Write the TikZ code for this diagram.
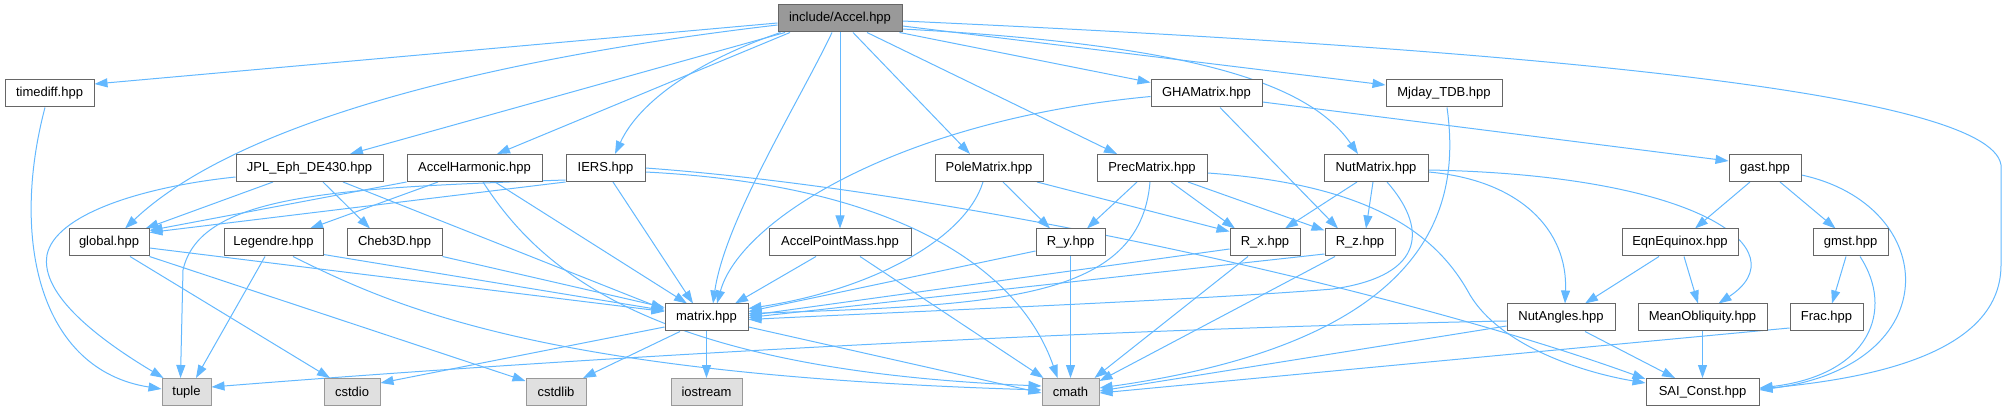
\documentclass[tikz,border=0pt]{standalone}
\usepackage{fontspec}
\setmainfont{Liberation Sans}
\usetikzlibrary{arrows.meta}
\definecolor{edgec}{HTML}{63B8FF}
\definecolor{bord}{HTML}{666666}
\definecolor{sysb}{HTML}{999999}
\definecolor{sysf}{HTML}{E0E0E0}
\pgfdeclarelayer{bg}
\pgfsetlayers{bg,main}
\tikzset{
  file/.style={draw=bord, fill=white, line width=1pt, minimum height=27pt, inner sep=0pt,
    font=\fontsize{13}{15}\selectfont, text=black},
  sys/.style={file, draw=sysb, fill=sysf},
  root/.style={file, fill=sysb},
  dep/.style={draw=edgec, line width=1pt, -{Triangle[length=13pt,width=9pt]}},
}
\begin{document}
\begin{tikzpicture}[x=1pt,y=-1pt]
\useasboundingbox (0,0) rectangle (2007,411);
% row 0
\node[root, minimum width=124pt] (accel) at (840,18.5) {include/Accel.hpp};
% row 1
\node[file, minimum width=89pt] (timediff) at (49.5,93.5) {timediff.hpp};
\node[file, minimum width=111pt] (gha) at (1206.5,93.5) {GHAMatrix.hpp};
\node[file, minimum width=116pt] (mjday) at (1444,93.5) {Mjday\_TDB.hpp};
% row 2
\node[file, minimum width=147pt] (jpl) at (309.5,168) {JPL\_Eph\_DE430.hpp};
\node[file, minimum width=135pt] (harm) at (474.5,168) {AccelHarmonic.hpp};
\node[file, minimum width=79pt] (iers) at (605.5,168) {IERS.hpp};
\node[file, minimum width=108pt] (pole) at (989,168) {PoleMatrix.hpp};
\node[file, minimum width=110pt] (prec) at (1152,168) {PrecMatrix.hpp};
\node[file, minimum width=104pt] (nut) at (1376,168) {NutMatrix.hpp};
\node[file, minimum width=72pt] (gast) at (1765,168) {gast.hpp};
% row 3
\node[file, minimum width=80pt] (global) at (109,242.5) {global.hpp};
\node[file, minimum width=99pt] (legendre) at (273.5,242.5) {Legendre.hpp};
\node[file, minimum width=95pt] (cheb) at (394.5,242.5) {Cheb3D.hpp};
\node[file, minimum width=142pt] (apm) at (840,242.5) {AccelPointMass.hpp};
\node[file, minimum width=69pt] (ry) at (1070.5,242.5) {R\_y.hpp};
\node[file, minimum width=70pt] (rx) at (1265,242.5) {R\_x.hpp};
\node[file, minimum width=70pt] (rz) at (1360,242.5) {R\_z.hpp};
\node[file, minimum width=116pt] (eqn) at (1680,242.5) {EqnEquinox.hpp};
\node[file, minimum width=75pt] (gmst) at (1850.5,242.5) {gmst.hpp};
% row 4
\node[file, minimum width=83pt] (matrix) at (706.5,317.5) {matrix.hpp};
\node[file, minimum width=108pt] (nutang) at (1561,317.5) {NutAngles.hpp};
\node[file, minimum width=129pt] (meanobl) at (1702.5,317.5) {MeanObliquity.hpp};
\node[file, minimum width=73pt] (frac) at (1826.5,317.5) {Frac.hpp};
% row 5
\node[sys, minimum width=49pt] (tuple) at (186.5,392) {tuple};
\node[sys, minimum width=56pt] (cstdio) at (352,392) {cstdio};
\node[sys, minimum width=60pt] (cstdlib) at (556,392) {cstdlib};
\node[sys, minimum width=71pt] (iostream) at (706.5,392) {iostream};
\node[sys, minimum width=57pt] (cmath) at (1070.5,392) {cmath};
\node[file, minimum width=113pt] (sai) at (1702.5,392) {SAI\_Const.hpp};

\begin{pgfonlayer}{bg}
% Accel
\draw[dep] ([yshift=-4.5pt]accel.west) -- ([yshift=9.5pt]timediff.east);
\draw[dep] ([yshift=-6.5pt]accel.west) .. controls (520,55) and (245,115) .. ([xshift=16pt]global.north);
\draw[dep] ([xshift=-55pt]accel.south) -- ([xshift=40.5pt]jpl.north);
\draw[dep] ([xshift=-50pt]accel.south) -- ([xshift=22.5pt]harm.north);
\draw[dep] ([xshift=3pt]accel.south west) .. controls (700,60) and (640,100) .. ([xshift=9.5pt]iers.north);
\draw[dep] ([xshift=-8pt]accel.south) .. controls (800,100) and (725,220) .. ([xshift=6.5pt]matrix.north);
\draw[dep] (accel.south) -- (apm.north);
\draw[dep] ([xshift=13pt]accel.south) -- ([xshift=-19pt]pole.north);
\draw[dep] ([xshift=27pt]accel.south) -- ([xshift=-35pt]prec.north);
\draw[dep] ([xshift=-3pt]accel.south east) -- ([yshift=-3pt]gha.north west);
\draw[dep] ([yshift=-7.5pt]accel.east) -- ([yshift=8.5pt]mjday.west);
\draw[dep] ([yshift=-10.5pt]accel.east) .. controls (1200,45) and (1310,85) .. ([xshift=-18pt]nut.north);
\draw[dep] ([yshift=-2.5pt]accel.east) .. controls (1500,48) and (1990,90) .. (2001,165) -- (2001,265) .. controls (2001,360) and (1850,380) .. ([yshift=3pt]sai.east);
% timediff
\draw[dep] ([xshift=-4.5pt]timediff.south) .. controls (10,240) and (40,370) .. ([yshift=3pt]tuple.west);
% JPL
\draw[dep] ([yshift=-9pt]jpl.west) .. controls (140,187) and (55,215) .. (47,255) .. controls (40,295) and (100,340) .. ([xshift=2pt]tuple.north west);
\draw[dep] ([xshift=-36.5pt]jpl.south) -- ([xshift=-4pt]global.north east);
\draw[dep] ([xshift=13.5pt]jpl.south) -- ([xshift=-24.5pt]cheb.north);
\draw[dep] ([xshift=33.5pt]jpl.south) -- ([yshift=8pt]matrix.west);
% AccelHarmonic
\draw[dep] (harm.south west) -- ([yshift=-2pt]global.north east);
\draw[dep] ([xshift=-36.5pt]harm.south) -- ([xshift=36.5pt]legendre.north);
\draw[dep] ([xshift=20.5pt]harm.south) -- ([xshift=-19.5pt]matrix.north);
\draw[dep] ([xshift=8.5pt]harm.south) .. controls (540,270) and (650,370) .. ([yshift=6pt]cmath.west);
% IERS
\draw[dep] (iers.south west) -- ([yshift=-4pt]global.north east);
\draw[dep] ([yshift=2pt]iers.south west) .. controls (330,188) and (200,195) .. (183,270) -- ([xshift=-6pt]tuple.north);
\draw[dep] ([xshift=7.5pt]iers.south) -- ([xshift=-13.5pt]matrix.north);
\draw[dep] ([yshift=-4pt]iers.east) .. controls (900,185) and (1020,270) .. ([xshift=-13pt]cmath.north);
\draw[dep] (iers.east) .. controls (950,190) and (1400,290) .. ([yshift=-1pt]sai.north west);
% global
\draw[dep] ([yshift=-5.5pt]global.east) -- ([yshift=6pt]matrix.west);
\draw[dep] ([xshift=21pt]global.south) -- ([xshift=-22pt]cstdio.north);
\draw[dep] (global.south east) -- ([yshift=-3pt]cstdlib.north west);
% Legendre
\draw[dep] ([xshift=-8.5pt]legendre.south) -- ([xshift=9.5pt]tuple.north);
\draw[dep] ([yshift=2pt]legendre.south east) -- ([yshift=7pt]matrix.west);
\draw[dep] ([xshift=19.5pt]legendre.south) .. controls (400,310) and (550,375) .. ([yshift=2pt]cmath.west);
% Cheb3D
\draw[dep] (cheb.south east) -- ([yshift=10pt]matrix.west);
% AccelPointMass
\draw[dep] ([xshift=-24pt]apm.south) -- ([xshift=28.5pt]matrix.north);
\draw[dep] ([xshift=20pt]apm.south) -- ([xshift=2pt]cmath.north west);
% PoleMatrix
\draw[dep] ([xshift=-6pt]pole.south) .. controls (965,240) and (870,290) .. ([yshift=9pt]matrix.east);
\draw[dep] ([xshift=14pt]pole.south) -- ([xshift=-20.5pt]ry.north);
\draw[dep] ([xshift=48pt]pole.south) -- ([yshift=-3pt]rx.north west);
% PrecMatrix
\draw[dep] ([xshift=-15pt]prec.south) -- ([xshift=16.5pt]ry.north);
\draw[dep] ([xshift=-2pt]prec.south) .. controls (1140,300) and (1000,305) .. ([yshift=4pt]matrix.east);
\draw[dep] ([xshift=19pt]prec.south) -- ([xshift=-30pt]rx.north);
\draw[dep] ([xshift=36pt]prec.south) -- ([yshift=-2pt]rz.north west);
\draw[dep] ([yshift=-5pt]prec.east) .. controls (1380,185) and (1440,240) .. (1470,295) .. controls (1500,345) and (1580,372) .. ([yshift=-5pt]sai.north west);
% GHAMatrix
\draw[dep] ([yshift=-3pt]gha.west) .. controls (900,120) and (740,220) .. ([xshift=10.5pt]matrix.north);
\draw[dep] ([xshift=13.5pt]gha.south) -- ([xshift=-22pt]rz.north);
\draw[dep] ([yshift=-8.5pt]gha.east) -- ([yshift=7pt]gast.west);
% Mjday
\draw[dep] ([xshift=3pt]mjday.south) .. controls (1460,200) and (1440,340) .. ([yshift=4pt]cmath.east);
% NutMatrix
\draw[dep] ([xshift=-19pt]nut.south) -- ([xshift=20pt]rx.north);
\draw[dep] ([xshift=-3pt]nut.south) -- ([xshift=6pt]rz.north);
\draw[dep] ([xshift=11pt]nut.south) .. controls (1425,225) and (1430,275) .. (1333,289) .. controls (1200,300) and (900,312) .. ([yshift=-2pt]matrix.east);
\draw[dep] ([yshift=-4pt]nut.east) .. controls (1520,180) and (1568,230) .. ([xshift=4pt]nutang.north);
\draw[dep] ([yshift=-2pt]nut.east) .. controls (1700,175) and (1800,250) .. ([xshift=16pt]meanobl.north);
% gast
\draw[dep] ([xshift=-15pt]gast.south) -- ([xshift=15pt]eqn.north);
\draw[dep] ([xshift=15pt]gast.south) -- ([xshift=-15pt]gmst.north);
\draw[dep] ([yshift=-7pt]gast.east) .. controls (1940,205) and (1950,365) .. ([yshift=2pt]sai.east);
% EqnEquinox
\draw[dep] ([xshift=-21pt]eqn.south) -- ([xshift=24pt]nutang.north);
\draw[dep] ([xshift=4pt]eqn.south) -- ([xshift=-4.5pt]meanobl.north);
% gmst
\draw[dep] ([xshift=-4.5pt]gmst.south) -- ([xshift=5.5pt]frac.north);
\draw[dep] ([xshift=9.5pt]gmst.south) .. controls (1895,310) and (1870,375) .. ([yshift=4pt]sai.east);
% NutAngles
\draw[dep] ([yshift=-3.5pt]nutang.west) .. controls (1050,330) and (550,360) .. ([yshift=5pt]tuple.east);
\draw[dep] ([yshift=-8.5pt]nutang.west) -- ([yshift=1pt]cmath.east);
\draw[dep] ([xshift=24pt]nutang.south) -- ([xshift=-27.5pt]sai.north);
% MeanObliquity
\draw[dep] (meanobl.south) -- (sai.north);
% Frac
\draw[dep] ([yshift=-10.5pt]frac.west) -- ([yshift=-1pt]cmath.east);
% R_y, R_x, R_z
\draw[dep] ([yshift=-8.5pt]ry.west) -- ([yshift=6pt]matrix.east);
\draw[dep] (ry.south) -- (cmath.north);
\draw[dep] ([yshift=-6.5pt]rx.west) -- ([yshift=2pt]matrix.east);
\draw[dep] ([xshift=-17pt]rx.south) -- ([xshift=-5pt]cmath.north east);
\draw[dep] ([yshift=-11.5pt]rz.west) -- (matrix.east);
\draw[dep] ([xshift=-25pt]rz.south) -- ([yshift=-3pt]cmath.north east);
% matrix
\draw[dep] ([yshift=-9.5pt]matrix.west) -- ([yshift=9pt]cstdio.east);
\draw[dep] ([xshift=-26.5pt]matrix.south) -- ([xshift=27pt]cstdlib.north);
\draw[dep] (matrix.south) -- (iostream.north);
\draw[dep] ([yshift=-9.5pt]matrix.east) -- ([yshift=-1pt]cmath.west);
\end{pgfonlayer}
\end{tikzpicture}
\end{document}
